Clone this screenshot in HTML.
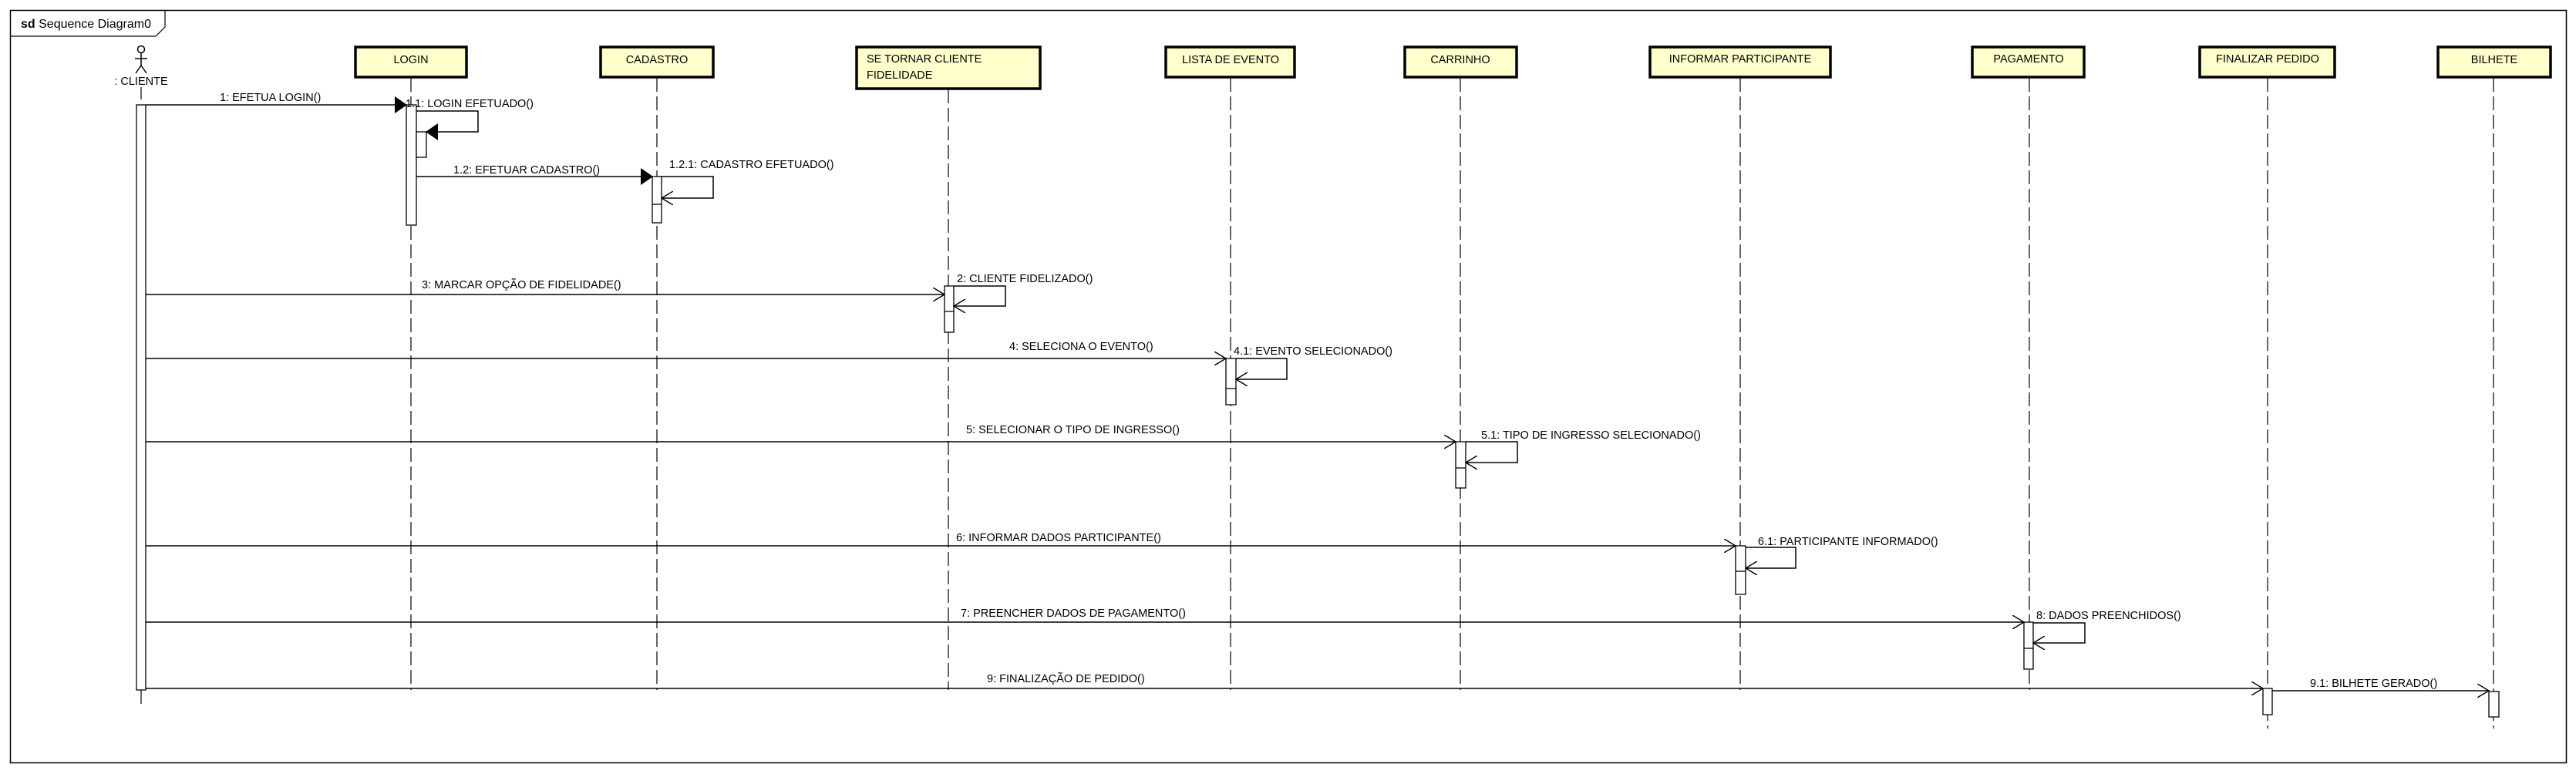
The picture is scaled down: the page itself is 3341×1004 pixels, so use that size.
<!DOCTYPE html>
<html><head><meta charset="utf-8"><style>
html,body{margin:0;padding:0;background:#fff;}
svg{display:block;}
text{font-family:"Liberation Sans",Arial,sans-serif;font-size:14.5px;fill:#000;}
</style></head><body>
<svg width="3341" height="1004" viewBox="0 0 3341 1004" xmlns="http://www.w3.org/2000/svg">
<defs>
<marker id="f" markerWidth="16" markerHeight="22" refX="15" refY="11" orient="auto" markerUnits="userSpaceOnUse"><path d="M0,0 L16,11 L0,22 Z" fill="#000"/></marker>
<marker id="o" markerWidth="16" markerHeight="18" refX="15" refY="9" orient="auto" markerUnits="userSpaceOnUse"><path d="M0,0 L15,9 L0,18" fill="none" stroke="#000" stroke-width="1.4"/></marker>
</defs>
<rect x="13.5" y="13.5" width="3315" height="976" fill="none" stroke="#000" stroke-width="1.5"/>
<path d="M13.5,47 L202,47 L214,35 L214,13.5" fill="none" stroke="#000" stroke-width="1.2"/>
<text x="27" y="36" style="font-size:16px"><tspan font-weight="bold">sd</tspan> Sequence Diagram0</text>

<g stroke="#000" stroke-width="1.2" stroke-dasharray="18,6" fill="none">
<line x1="533" y1="101" x2="533" y2="895"/>
<line x1="852" y1="101" x2="852" y2="895"/>
<line x1="1230" y1="116" x2="1230" y2="895"/>
<line x1="1596" y1="101" x2="1596" y2="895"/>
<line x1="1894" y1="101" x2="1894" y2="895"/>
<line x1="2257" y1="101" x2="2257" y2="895"/>
<line x1="2632" y1="101" x2="2632" y2="895"/>
<line x1="2941" y1="101" x2="2941" y2="945"/>
<line x1="3234" y1="101" x2="3234" y2="945"/>
<line x1="183" y1="895" x2="183" y2="915"/>
</g>
<line x1="183" y1="113" x2="183" y2="129" stroke="#000" stroke-width="1.2"/>

<g stroke="#000" stroke-width="1.5" fill="none">
<circle cx="183" cy="64" r="4.5"/>
<line x1="183" y1="69" x2="183" y2="85"/>
<line x1="175" y1="76" x2="191" y2="76"/>
<line x1="183" y1="85" x2="176" y2="95"/>
<line x1="183" y1="85" x2="190" y2="95"/>
</g>
<text x="183" y="110" text-anchor="middle">: CLIENTE</text>

<g fill="#ffffcc" stroke="#000" stroke-width="3.5">
<rect x="461" y="61" width="144" height="39"/>
<rect x="779" y="61" width="146" height="39"/>
<rect x="1111" y="61" width="238" height="54"/>
<rect x="1512" y="61" width="167" height="39"/>
<rect x="1822" y="61" width="145" height="39"/>
<rect x="2140" y="61" width="234" height="39"/>
<rect x="2558" y="61" width="145" height="39"/>
<rect x="2853" y="61" width="175" height="39"/>
<rect x="3162" y="61" width="146" height="39"/>
</g>
<text x="533" y="82" text-anchor="middle">LOGIN</text>
<text x="852" y="82" text-anchor="middle">CADASTRO</text>
<text x="1124" y="81">SE TORNAR CLIENTE</text>
<text x="1124" y="102">FIDELIDADE</text>
<text x="1596" y="82" text-anchor="middle">LISTA DE EVENTO</text>
<text x="1894" y="82" text-anchor="middle">CARRINHO</text>
<text x="2257" y="81" text-anchor="middle">INFORMAR PARTICIPANTE</text>
<text x="2631" y="81" text-anchor="middle">PAGAMENTO</text>
<text x="2941" y="81" text-anchor="middle">FINALIZAR PEDIDO</text>
<text x="3235" y="82" text-anchor="middle">BILHETE</text>

<g fill="#fff" stroke="#000" stroke-width="1.3">
<rect x="177" y="136" width="12" height="759"/>
<rect x="527" y="136" width="13" height="156"/>
<rect x="540" y="171" width="13" height="33"/>
<rect x="846" y="229" width="12" height="60"/>
<line x1="846" y1="265" x2="858" y2="265"/>
<rect x="1225" y="371" width="12" height="60"/>
<line x1="1225" y1="404" x2="1237" y2="404"/>
<rect x="1590" y="465" width="13" height="60"/>
<line x1="1590" y1="504" x2="1603" y2="504"/>
<rect x="1888" y="573" width="13" height="60"/>
<line x1="1888" y1="607" x2="1901" y2="607"/>
<rect x="2251" y="708" width="13" height="63"/>
<line x1="2251" y1="741" x2="2264" y2="741"/>
<rect x="2625" y="807" width="12" height="61"/>
<line x1="2625" y1="841" x2="2637" y2="841"/>
<rect x="2935" y="893" width="12" height="34"/>
<rect x="3228" y="897" width="13" height="33"/>
</g>

<g stroke="#000" stroke-width="1.5" fill="none">
<line x1="189" y1="136" x2="527" y2="136" marker-end="url(#f)"/>
<polyline points="540,144 620,144 620,171 553,171" marker-end="url(#f)"/>
<line x1="540" y1="229" x2="846" y2="229" marker-end="url(#f)"/>
<polyline points="858,229 925,229 925,257 858,257" marker-end="url(#o)"/>
<line x1="189" y1="382" x2="1225" y2="382" marker-end="url(#o)"/>
<polyline points="1237,371 1304,371 1304,397 1237,397" marker-end="url(#o)"/>
<line x1="189" y1="465" x2="1590" y2="465" marker-end="url(#o)"/>
<polyline points="1603,465 1669,465 1669,492 1603,492" marker-end="url(#o)"/>
<line x1="189" y1="573" x2="1888" y2="573" marker-end="url(#o)"/>
<polyline points="1901,573 1968,573 1968,600 1901,600" marker-end="url(#o)"/>
<line x1="189" y1="708" x2="2251" y2="708" marker-end="url(#o)"/>
<polyline points="2264,710 2329,710 2329,737 2264,737" marker-end="url(#o)"/>
<line x1="189" y1="807" x2="2625" y2="807" marker-end="url(#o)"/>
<polyline points="2637,808 2704,808 2704,834 2637,834" marker-end="url(#o)"/>
<line x1="189" y1="893" x2="2935" y2="893" marker-end="url(#o)"/>
<line x1="2947" y1="896" x2="3228" y2="896" marker-end="url(#o)"/>
</g>

<text x="285" y="131">1: EFETUA LOGIN()</text>
<text x="526" y="139">1.1: LOGIN EFETUADO()</text>
<text x="588" y="225">1.2: EFETUAR CADASTRO()</text>
<text x="868" y="218">1.2.1: CADASTRO EFETUADO()</text>
<text x="547" y="374">3: MARCAR OPÇÃO DE FIDELIDADE()</text>
<text x="1241" y="366">2: CLIENTE FIDELIZADO()</text>
<text x="1309" y="454">4: SELECIONA O EVENTO()</text>
<text x="1600" y="460">4.1: EVENTO SELECIONADO()</text>
<text x="1253" y="562">5: SELECIONAR O TIPO DE INGRESSO()</text>
<text x="1921" y="569">5.1: TIPO DE INGRESSO SELECIONADO()</text>
<text x="1240" y="702">6: INFORMAR DADOS PARTICIPANTE()</text>
<text x="2280" y="707">6.1: PARTICIPANTE INFORMADO()</text>
<text x="1246" y="800">7: PREENCHER DADOS DE PAGAMENTO()</text>
<text x="2641" y="803">8: DADOS PREENCHIDOS()</text>
<text x="1280" y="885">9: FINALIZAÇÃO DE PEDIDO()</text>
<text x="2996" y="891">9.1: BILHETE GERADO()</text>
</svg>
</body></html>
